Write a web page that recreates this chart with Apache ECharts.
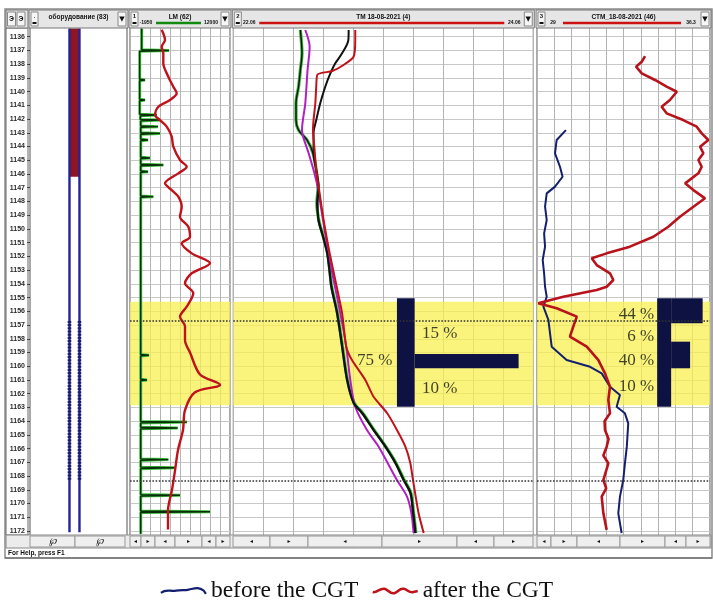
<!DOCTYPE html>
<html>
<head>
<meta charset="utf-8">
<script src="https://cdn.jsdelivr.net/npm/echarts@6/dist/echarts.min.js"></script>
<style>
html,body{margin:0;padding:0;background:#fff;}
#chart{width:713px;height:603px;}
</style>
</head>
<body>
<div id="chart"></div>
<script>
// ---------- depth range (m) ----------
const depthMin = 1135;
const depthMax = 1173;

// ---------- track scales (header values) ----------
const lmScale = [-1950, 12000];
const tmScale = [22.06, 24.06];
const stmScale = [29, 36.3];
const trackTitles = ['оборудование (83)', 'LM (62)', 'ТМ 18-08-2021 (4)', 'СТМ_18-08-2021 (46)'];
const scaleLabels = [null, ['-1950', '12000'], ['22.06', '24.06'], ['29', '36.3']];

// ---------- equipment column (track 1, relative units 0..10) ----------
const eqWalls = [4.07, 5.1];
const eqTop = 1135.4;
const eqBottom = 1172.1;
const eqRedInterval = [1135.4, 1146.2];
const eqPerfInterval = [1156.7, 1168.35];

// ---------- LM track: [depth, value] ----------
const lmGreen = [
  [1135.4,-318],[1136.95,-318],[1137.0,3491],[1137.06,-600],[1139.1,-600],[1139.15,143],[1139.2,-600],
  [1140.56,-600],[1140.61,143],[1140.66,-600],[1141.65,-600],[1141.7,1775],[1141.76,-500],[1142.02,-500],
  [1142.07,2235],[1142.13,-450],[1142.5,-450],[1142.55,1956],[1142.6,-450],[1142.99,-450],[1143.04,2235],
  [1143.1,-450],[1143.47,-450],[1143.52,561],[1143.57,-450],[1144.78,-450],[1144.83,840],[1144.88,-450],
  [1145.29,-450],[1145.34,2695],[1145.4,-450],[1145.78,-450],[1145.83,561],[1145.88,-450],[1147.6,-457],
  [1147.65,1300],[1147.7,-457],[1159.15,-457],[1159.2,700],[1159.25,-457],[1160.95,-457],[1161.0,420],
  [1161.05,-457],[1164.02,-457],[1164.07,6000],[1164.13,-457],[1164.45,-457],[1164.5,4700],[1164.56,-457],
  [1166.75,-457],[1166.8,3400],[1166.86,-457],[1167.35,-457],[1167.4,4300],[1167.46,-457],[1169.35,-457],
  [1169.4,5025],[1169.46,-457],[1170.55,-457],[1170.6,9210],[1170.66,-457],[1172.2,-457]
];
const lmRed = [
  [1135.5,2472],[1136.24,2933],[1136.73,2472],[1137.21,2695],[1137.94,2695],[1138.91,3393],[1139.64,4090],
  [1140.12,4565],[1140.61,3630],[1141.1,1998],[1141.7,1538],[1142.07,2235],[1142.55,3170],[1143.28,3867],
  [1144.01,4090],[1144.98,5025],[1145.47,5960],[1145.95,4788],[1146.68,2933],[1147.17,3867],[1147.65,4788],
  [1148.38,5262],[1149.11,5025],[1149.84,6183],[1150.57,6420],[1151.05,5262],[1151.78,6657],[1152.5,9210],
  [1153.23,6657],[1153.96,5723],[1154.69,6880],[1155.66,5960],[1156.39,5025],[1157.1,5723],[1158.1,5723],
  [1159.0,6420],[1160.6,7815],[1161.35,10605],[1161.9,7118],[1163.2,5723],[1164.65,5444],[1166.1,4746],
  [1167.6,4328],[1169.0,3909],[1170.5,3351],[1171.9,3351]
];

// ---------- TM track: [depth, value] ----------
const tmGreen = [
  [1135.51,22.507],[1137.21,22.518],[1138.43,22.507],[1139.64,22.495],[1140.83,22.478],[1142.07,22.478],
  [1142.8,22.495],[1143.52,22.551],[1144.47,22.591],[1145.71,22.613],[1146.92,22.625],[1148.11,22.617],
  [1149.35,22.63],[1150.57,22.66],[1151.75,22.688],[1152.99,22.703],[1154.21,22.716],[1156.12,22.754],
  [1158.58,22.788],[1161.0,22.821],[1162.68,22.866],[1163.41,22.922],[1164.65,22.999],[1165.86,23.077],
  [1167.05,23.144],[1168.29,23.199],[1169.24,23.244],[1170.69,23.262],[1172.15,23.277]
];
const tmBlack = [
  [1135.51,22.829],[1136.24,22.827],[1137.21,22.785],[1137.94,22.74],[1138.67,22.707],[1139.64,22.673],
  [1140.83,22.64],[1142.07,22.613],[1143.01,22.595],[1144.47,22.595],[1145.71,22.613],[1146.92,22.629],
  [1148.11,22.622],[1149.35,22.627],[1150.57,22.658],[1151.75,22.685],[1152.99,22.7],[1154.21,22.713],
  [1156.12,22.751],[1158.58,22.785],[1161.0,22.818],[1162.68,22.862],[1163.41,22.918],[1164.65,22.995],
  [1165.86,23.073],[1167.05,23.14],[1168.29,23.195],[1169.24,23.24],[1170.69,23.258],[1172.15,23.273]
];
const tmPurple = [
  [1135.51,22.54],[1136.73,22.569],[1138.43,22.555],[1140.83,22.54],[1142.8,22.518],[1144.47,22.562],
  [1145.71,22.595],[1146.92,22.622],[1148.11,22.64],[1149.35,22.658],[1151.75,22.695],[1153.72,22.729],
  [1156.12,22.773],[1158.58,22.813],[1161.0,22.84],[1162.95,22.873],[1164.65,22.951],[1165.86,23.029],
  [1168.29,23.151],[1169.5,23.218],[1170.69,23.247],[1172.15,23.262]
];
const tmRed = [
  [1135.51,22.873],[1136.24,22.873],[1137.46,22.862],[1138.06,22.795],[1138.5,22.72],[1138.74,22.622],
  [1139.64,22.613],[1140.83,22.607],[1142.07,22.595],[1142.8,22.591],[1144.01,22.6],[1145.71,22.613],
  [1146.92,22.629],[1149.35,22.662],[1151.75,22.702],[1153.72,22.74],[1156.12,22.785],[1158.58,22.813],
  [1159.55,22.851],[1161.0,22.94],[1162.22,22.995],[1163.41,23.085],[1164.65,23.151],[1165.86,23.207],
  [1167.05,23.24],[1168.29,23.258],[1170.69,23.295],[1172.15,23.329]
];

// ---------- STM track: [depth, value] ----------
const stmAfter = [
  [1137.41,33.56],[1137.82,33.42],[1138.18,33.18],[1138.67,33.42],[1139.15,33.98],[1139.64,34.47],
  [1140.01,34.9],[1140.61,34.61],[1141.1,34.26],[1141.58,34.47],[1142.07,35.17],[1142.55,35.74],
  [1143.04,35.95],[1143.52,36.23],[1144.01,35.88],[1144.49,36.02],[1144.98,35.81],[1145.47,35.95],
  [1145.95,35.81],[1146.68,35.25],[1147.17,35.6],[1147.77,36.09],[1148.38,35.6],[1149.11,35.03],
  [1149.84,34.54],[1150.57,33.91],[1151.29,32.92],[1151.78,31.94],[1152.14,31.31],[1152.63,31.52],
  [1153.23,32.08],[1153.72,32.22],[1154.21,31.94],[1154.45,31.52],[1154.94,30.11],[1155.42,29.05],
  [1155.78,29.83],[1156.39,30.68],[1157.12,30.53],[1157.85,30.39],[1158.58,31.1],[1159.55,31.59],
  [1160.52,31.87],[1161.49,32.08],[1162.46,32.01],[1163.43,32.08],[1164.0,31.85],[1164.65,31.87],
  [1165.3,32.02],[1165.86,31.94],[1166.5,31.8],[1167.07,32.01],[1168.29,31.8],[1168.9,31.92],
  [1169.5,31.73],[1170.71,31.8],[1171.92,31.94]
];
const stmBefore = [
  [1142.8,30.22],[1143.52,29.83],[1144.49,29.76],[1145.47,29.97],[1146.2,30.08],[1146.92,29.76],
  [1147.41,29.41],[1148.38,29.34],[1149.35,29.41],[1150.32,29.3],[1151.29,29.34],[1152.26,29.24],
  [1153.23,29.3],[1154.21,29.34],[1154.94,29.41],[1155.66,29.27],[1156.63,29.48],[1157.6,29.55],
  [1158.58,29.62],[1159.55,30.25],[1160.04,31.24],[1160.52,31.73],[1161.49,32.08],[1162.1,32.5],
  [1162.95,32.36],[1163.43,32.71],[1164.16,32.85],[1165.86,32.79],[1167.07,32.71],[1168.29,32.64],
  [1169.5,32.5],[1170.71,32.43],[1172.15,32.57]
];

// ---------- interpretation marks ----------
const studyInterval = [1155.3, 1162.85];
const dottedDepths = [1156.68, 1168.34];
const tmShares = [
  {text:'15 %', value:23.318, depth:1157.6},
  {text:'75 %', value:22.885, depth:1159.55},
  {text:'10 %', value:23.318, depth:1161.61}
];
const stmShares = [
  {text:'44 %', value:33.94, depth:1156.22},
  {text:'6 %', value:33.94, depth:1157.85},
  {text:'40 %', value:33.94, depth:1159.62},
  {text:'10 %', value:33.94, depth:1161.49}
];
// glyph blocks: [valueFrom, depthFrom, valueTo, depthTo]
const tmGlyph = [[23.151,1155.05,23.269,1162.95],[23.269,1159.11,23.962,1160.15]];
const stmGlyph = [[34.07,1155.05,34.66,1162.95],[34.66,1155.05,35.99,1156.87],[34.66,1158.21,35.46,1160.15]];

// ---------- layout ----------
const plotTop = 23, plotHeight = 521.7;
const tracks = [{x:30,w:97},{x:130,w:100},{x:233.3,w:300},{x:537,w:173}];
const hdrTop = 10, hdrBot = 28, rowTop = 535, rowBot = 548, frameBot = 558;
const NAVY = '#0d1242';

const chart = echarts.init(document.getElementById('chart'), null, {renderer:'canvas'});

const grids = tracks.map(t => ({left:t.x, top:plotTop, width:t.w, height:plotHeight,
  show:true, borderColor:'#555', borderWidth:1, backgroundColor:'#fff', containLabel:false}));

const hiddenAxis = (gi, range) => ({type:'value', gridIndex:gi, min:range[0], max:range[1], show:false});
const gridAxis = (gi) => ({type:'value', gridIndex:gi, min:0, max:10, interval:1,
  axisLine:{show:false}, axisTick:{show:false}, axisLabel:{show:false},
  splitLine:{show:true, lineStyle:{color:'#b4b4b4', width:1}}});

const xAxes = [
  hiddenAxis(0,[0,10]),
  hiddenAxis(1,lmScale), gridAxis(1),
  hiddenAxis(2,tmScale), gridAxis(2),
  hiddenAxis(3,stmScale), gridAxis(3)
];
const yAxes = tracks.map((t,i) => ({
  type:'value', gridIndex:i, inverse:true, min:depthMin, max:depthMax, interval:1,
  axisLine:{show:false},
  axisTick:{show:i===0, length:3, lineStyle:{color:'#333'}},
  axisLabel:{show:i===0, showMinLabel:false, showMaxLabel:false, margin:5, fontSize:7,
    fontWeight:'bold', fontFamily:'Liberation Sans', color:'#2a2a2a', formatter:v => String(v)},
  splitLine:{show:i!==0, lineStyle:{color:'#c8c8c8', width:1}}
}));

const toXY = pts => pts.map(p => [p[1], p[0]]);
const line = (name, pts, xi, yi, color, width, extra) => Object.assign({
  type:'line', name, data:toXY(pts), xAxisIndex:xi, yAxisIndex:yi, showSymbol:false, symbol:'none',
  lineStyle:{color, width}, itemStyle:{color}, silent:true, z:3
}, extra || {});

const yellowBand = {silent:true, itemStyle:{color:'rgba(248,240,80,0.74)'},
  data:[[{yAxis:studyInterval[0]},{yAxis:studyInterval[1]}]]};
const dotted = {silent:true, symbol:'none', label:{show:false},
  lineStyle:{type:'dotted', color:'#333', width:1.6}, data:dottedDepths.map(d => ({yAxis:d}))};

const glyphArea = blocks => ({silent:true, itemStyle:{color:NAVY, opacity:1},
  data:blocks.map(b => [{coord:[b[0],b[1]]},{coord:[b[2],b[3]]}])});

const shareSeries = (items, xi, yi, pos) => ({
  type:'scatter', xAxisIndex:xi, yAxisIndex:yi, symbolSize:0, silent:true, z:6,
  data:items.map(s => ({name:s.text, value:[s.value, s.depth]})),
  label:{show:true, formatter:'{b}', position:pos, distance:0, fontFamily:'Liberation Serif',
    fontSize:17, color:'#111'}
});

const series = [
  // equipment column
  line('', [[eqTop,eqWalls[0]],[eqBottom,eqWalls[0]]], 0, 0, '#23239a', 2.4, {
    markArea:{silent:true, itemStyle:{color:'#8e1620'},
      data:[[{coord:[eqWalls[0],eqRedInterval[0]]},{coord:[eqWalls[1],eqRedInterval[1]]}]]}}),
  line('', [[eqTop,eqWalls[1]],[eqBottom,eqWalls[1]]], 0, 0, '#23239a', 2.4),
  line('', [[eqPerfInterval[0],eqWalls[0]],[eqPerfInterval[1],eqWalls[0]]], 0, 0, '#1c1c6e', 3.6,
    {lineStyle:{color:'#1c1c6e', width:3.6, type:[2,1.2]}}),
  line('', [[eqPerfInterval[0],eqWalls[1]],[eqPerfInterval[1],eqWalls[1]]], 0, 0, '#1c1c6e', 3.6,
    {lineStyle:{color:'#1c1c6e', width:3.6, type:[2,1.2]}}),

  // LM
  line('', lmGreen, 1, 1, '#3fc93f', 3, {markArea:yellowBand, markLine:dotted}),
  line('', lmGreen, 1, 1, '#0c2c0c', 1.4, {z:4}),
  line('', lmRed, 1, 1, '#c0121a', 2.4, {smooth:0.3, z:4}),

  // TM
  line('', tmGreen, 3, 2, '#35b835', 3.2, {smooth:0.3, markArea:yellowBand, markLine:dotted}),
  line('', tmGreen, 3, 2, '#111', 1.4, {smooth:0.3}),
  line('', tmPurple, 3, 2, '#b11fc4', 2, {smooth:0.3}),
  line('', tmBlack, 3, 2, '#111', 2, {smooth:0.3}),
  line('', tmRed, 3, 2, '#c0121a', 2, {smooth:0.2}),
  Object.assign(shareSeries(tmShares, 3, 2, 'right'), {markArea:glyphArea(tmGlyph)}),

  // STM
  line('before the CGT', stmBefore, 5, 3, '#14206e', 2, {markArea:yellowBand, markLine:dotted}),
  line('after the CGT', stmAfter, 5, 3, '#b8121a', 2.6, {z:4}),
  Object.assign(shareSeries(stmShares, 5, 3, 'left'), {markArea:glyphArea(stmGlyph)})
];

// ---------- window chrome: headers, scroll row, status bar ----------
const Z = 100;
const g = [];
const rect = (x,y,w,h,fill,stroke,lw) => g.push({type:'rect', z:Z, silent:true,
  shape:{x,y,width:w,height:h}, style:{fill, stroke:stroke||null, lineWidth:lw||1}});
const txt = (x,y,s,opt) => g.push({type:'text', z:Z+1, silent:true, x, y,
  style:Object.assign({text:s, fill:'#111', font:'bold 6px "Liberation Sans"', align:'center', verticalAlign:'middle'}, opt||{})});
const seg = (x1,y1,x2,y2,color,w) => g.push({type:'line', z:Z+1, silent:true,
  shape:{x1,y1,x2,y2}, style:{stroke:color, lineWidth:w}});

// outer frame
rect(5, hdrTop-1, 707, frameBot-hdrTop+1, null, '#8a8a8a', 1.5);
// depth column
rect(6, hdrBot, 22, rowTop-hdrBot, null, '#666', 1);
// header row
rect(6, hdrTop, 22, hdrBot-hdrTop, '#e6e6e6', '#777');
rect(7.5, hdrTop+2, 8, 14, '#f4f4f4', '#888'); txt(11.5, hdrTop+9, 'Э', {font:'bold 7px "Liberation Sans"'});
rect(17, hdrTop+2, 8, 14, '#f4f4f4', '#888'); txt(21, hdrTop+9, 'Э', {font:'bold 7px "Liberation Sans"'});
tracks.forEach((t,i) => {
  const x0 = t.x - 1, w = t.w + 2;
  rect(x0, hdrTop, w, hdrBot-hdrTop, '#e6e6e6', '#777');
  rect(x0+2, hdrTop+2, 7, 14, '#f6f6f6', '#888');
  seg(x0+3.5, hdrTop+13, x0+7.5, hdrTop+13, '#111', 2);
  txt(x0+5.5, hdrTop+6, i===0 ? '.' : String(i), {font:'bold 6px "Liberation Sans"'});
  rect(x0+w-10, hdrTop+2, 8, 14, '#f6f6f6', '#888');
  txt(x0+w-6, hdrTop+9, '▼', {font:'7px "DejaVu Sans"'});
  const cx = x0 + w/2;
  txt(cx, hdrTop+7, trackTitles[i], {font:'bold 6.5px "Liberation Sans"'});
  if (scaleLabels[i]) {
    const lx = x0 + 17, rx = x0 + w - 20;
    txt(lx, hdrTop+13, scaleLabels[i][0], {font:'bold 5px "Liberation Sans"'});
    txt(rx, hdrTop+13, scaleLabels[i][1], {font:'bold 5px "Liberation Sans"'});
    seg(lx+10, hdrTop+13, rx-10, hdrTop+13, i===1 ? '#128a12' : '#cc1111', 2.4);
  }
});
// scroll row
rect(6, rowTop, 705, rowBot-rowTop, '#ececec', '#888');
const rowCells = [
  [[30,75],[75,125]],
  [[130,141],[141,155],[155,175],[175,202],[202,216],[216,230]],
  [[233,270],[270,308],[308,382],[382,457],[457,494],[494,533]],
  [[537,551],[551,577],[577,620],[620,665],[665,686],[686,710]]
];
rowCells.forEach((cells,i) => cells.forEach((c,j) => {
  rect(c[0], rowTop+1, c[1]-c[0], rowBot-rowTop-2, '#efefef', '#999');
  if (i === 0) txt((c[0]+c[1])/2, rowTop+6.5, '℘', {font:'italic 9px "DejaVu Serif"'});
  else txt((c[0]+c[1])/2, rowTop+6.5, j%2===0 ? '◂' : '▸', {font:'6px "DejaVu Sans"'});
}));
// status bar
txt(8, rowBot+5, 'For Help, press F1', {align:'left', font:'bold 6.5px "Liberation Sans"'});
seg(5, frameBot, 712, frameBot, '#777', 1.5);

const wave1 = 'path://M0,6 C5,2 9,5 14,4 C19,3 22,4 26,3 C31,2 35,0 40,4 L42,7';
const wave2 = 'path://M0,5 C4,6 7,1 11,2 C15,3 16,7 20,6 C24,5 25,1 29,2 C33,3 34,6 38,5 L42,4';

chart.setOption({
  animation:false,
  backgroundColor:'#fff',
  grid:grids,
  xAxis:xAxes,
  yAxis:yAxes,
  series,
  graphic:{elements:g},
  legend:{
    top:574, left:'center', itemWidth:45, itemHeight:10, itemGap:13,
    textStyle:{fontFamily:'Liberation Serif', fontSize:23.5, color:'#111'},
    data:[
      {name:'before the CGT', icon:wave1, itemStyle:{color:'transparent', borderColor:'#14206e', borderWidth:2.2}},
      {name:'after the CGT', icon:wave2, itemStyle:{color:'transparent', borderColor:'#c0121a', borderWidth:2.6}}
    ]
  }
});
</script>
</body>
</html>
